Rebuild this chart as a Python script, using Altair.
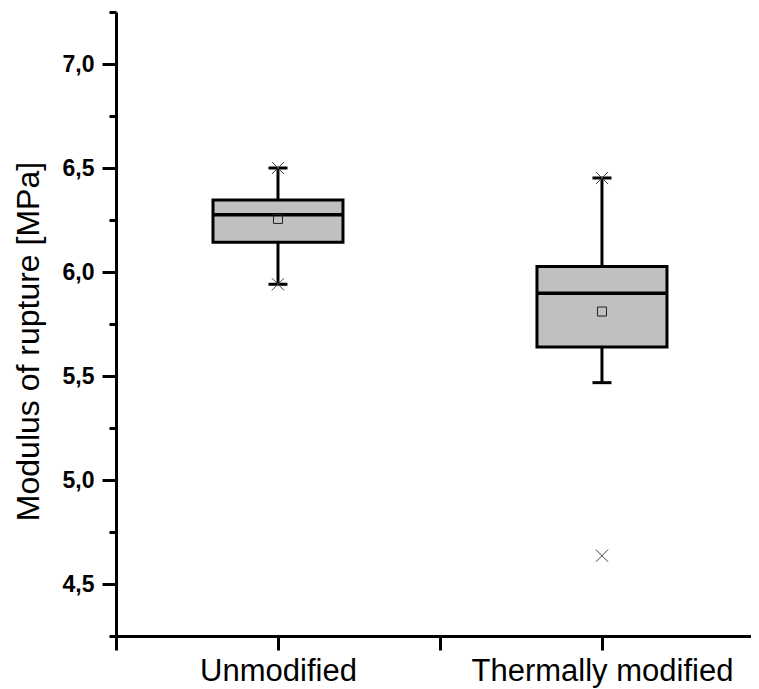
import altair as alt
import pandas as pd

categories = ["Unmodified", "Thermally modified"]
positions = [1, 2]
q1 = [6.143, 5.640]
median = [6.275, 5.898]
q3 = [6.346, 6.026]
mean = [6.255, 5.810]
whisker_low = [5.941, 5.468]
whisker_high = [6.500, 6.452]
cross_pos = [1, 1, 2, 2]
cross_val = [6.500, 5.941, 6.452, 4.636]
y_ticks = [4.25, 4.5, 4.75, 5.0, 5.25, 5.5, 5.75, 6.0, 6.25, 6.5, 6.75, 7.0, 7.25]
x_ticks = [0.5, 1, 1.5, 2, 2.5]

box = pd.DataFrame(dict(pos=positions, cat=categories, q1=q1, median=median,
                        q3=q3, mean=mean, lo=whisker_low, hi=whisker_high))
caps = pd.DataFrame(dict(pos=positions * 2, v=whisker_low + whisker_high))
crosses = pd.DataFrame(dict(pos=cross_pos, v=cross_val))

FONT = "Liberation Sans"
xscale = alt.Scale(domain=[0.5, 2.46], nice=False, zero=False, padding=0)
yscale = alt.Scale(domain=[4.25, 7.25], nice=False, zero=False, padding=0)

label_map = " : ".join([f"datum.value == {p} ? '{c}'" for p, c in zip(positions, categories)]) + " : ''"

xaxis = alt.Axis(
    title=None, values=x_ticks, labelExpr=label_map, grid=False,
    domainColor="black", domainWidth=3, tickColor="black", tickWidth=3,
    tickSize=14, labelFont=FONT, labelFontSize=31, labelColor="black",
    labelPadding=6, labelFlush=False, labelOverlap=False, labelLimit=0,
)
yaxis = alt.Axis(
    title="Modulus of rupture [MPa]", values=y_ticks,
    labelExpr="datum.value % 0.5 == 0 ? replace(format(datum.value, '.1f'), '.', ',') : ''",
    grid=False, domainColor="black", domainWidth=3, tickColor="black", tickWidth=3,
    tickSize={"condition": {"test": "datum.value % 0.5 == 0", "value": 14}, "value": 7},
    labelFont=FONT, labelFontSize=23, labelFontWeight="bold", labelColor="black",
    labelPadding=8, labelOverlap=False, labelFlush=False,
    titleFont=FONT, titleFontSize=32, titleFontWeight="normal", titleColor="black",
    titleAngle=270, titleBaseline="alphabetic", titleAlign="center",
    titleX=-78, titleY=329,
)

X = alt.X("pos:Q", scale=xscale, axis=xaxis)

whisk = alt.Chart(box).mark_rule(color="black", strokeWidth=3, opacity=1).encode(
    x=X, y=alt.Y("lo:Q", scale=yscale, axis=yaxis), y2="hi:Q")

bars = alt.Chart(box).mark_bar(size=130, color="#c0c0c0", stroke="black", strokeWidth=3,
                               opacity=1).encode(
    x=X, y=alt.Y("q1:Q", scale=yscale, axis=yaxis), y2="q3:Q")

med = alt.Chart(box).mark_tick(orient="horizontal", size=130, thickness=3.5, color="black",
                               opacity=1).encode(
    x=X, y=alt.Y("median:Q", scale=yscale, axis=yaxis))

cap = alt.Chart(caps).mark_tick(orient="horizontal", size=19, thickness=3, color="black",
                                opacity=1).encode(
    x=X, y=alt.Y("v:Q", scale=yscale, axis=yaxis))

mn = alt.Chart(box).mark_point(shape="square", size=81, filled=False, stroke="#222222",
                               strokeWidth=1, opacity=1).encode(
    x=X, y=alt.Y("mean:Q", scale=yscale, axis=yaxis))

cr = alt.Chart(crosses).mark_point(shape="M-1,-1L1,1M-1,1L1,-1", size=150, filled=False,
                                   stroke="#444444", strokeWidth=1, opacity=1).encode(
    x=X, y=alt.Y("v:Q", scale=yscale, axis=yaxis))

chart = alt.layer(whisk, bars, med, cap, mn, cr).properties(
    width=635, height=624, autosize="none", background="white",
    padding={"left": 108, "top": 4, "right": 0, "bottom": 62},
).configure_view(stroke=None)

chart.save("out.html", embed_options={"renderer": "svg", "actions": False})
